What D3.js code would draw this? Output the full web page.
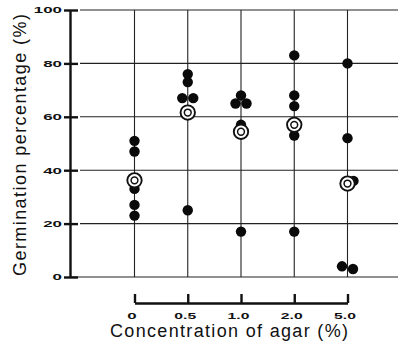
<!DOCTYPE html>
<html>
<head>
<meta charset="utf-8">
<script src="https://cdn.jsdelivr.net/npm/d3@7"></script>
<style>
  body { margin: 0; background: #fff; }
  svg { display: block; font-family: "Liberation Sans", Arial, sans-serif; }
  .grid line { stroke: #222; stroke-width: 1.1; }
  .axis text { font-weight: bold; font-size: 9px; fill: #111; }
  .axis path, .axis line { stroke: #111; stroke-width: 2.4; }
  .title { font-size: 18px; fill: #111; }
</style>
</head>
<body>
<div id="chart"></div>
<script>
const agar = ["0", "0.5", "1.0", "2.0", "5.0"];
// five replicate germination percentages per agar concentration
const germination = [
  [51, 47, 33, 27, 23],
  [76, 73, 67, 67, 25],
  [68, 65, 65, 57, 17],
  [83, 68, 64, 53, 17],
  [80, 52, 36, 4, 3],
];
const yTicks = [0, 20, 40, 60, 80, 100];

const width = 400;
const height = 353;
const margin = { top: 10, right: 2, bottom: 76, left: 70 };
const dotR = 5.2;

const x = d3.scalePoint().domain(agar).range([134.5, 347.5]);
const y = d3
  .scaleLinear()
  .domain([0, 100])
  .range([height - margin.bottom, margin.top]);

const svg = d3
  .select("#chart")
  .append("svg")
  .attr("width", width)
  .attr("height", height)
  .attr("viewBox", [0, 0, width, height]);

// stretch the blocky tick digits
const stretch = (s) => s.replace(".", "").length * 9.4 + (s.includes(".") ? 3 : 0);

// grid
const grid = svg.append("g").attr("class", "grid");
grid
  .selectAll(".h")
  .data(yTicks)
  .join("line")
  .attr("class", "h")
  .attr("x1", (d) => (d === 0 ? margin.left : margin.left + 10))
  .attr("x2", width - margin.right)
  .attr("y1", (d) => y(d))
  .attr("y2", (d) => y(d));
grid
  .selectAll(".v")
  .data(agar)
  .join("line")
  .attr("class", "v")
  .attr("x1", (d) => x(d))
  .attr("x2", (d) => x(d))
  .attr("y1", y(100))
  .attr("y2", y(0));

// left axis
svg
  .append("g")
  .attr("class", "axis axis--left")
  .attr("transform", `translate(${margin.left},0)`)
  .call(d3.axisLeft(y).tickValues(yTicks).tickSize(6).tickSizeOuter(0).tickPadding(2))
  .call((g) => g.selectAll(".tick line").attr("x1", 8))
  .call((g) =>
    g
      .selectAll(".tick text")
      .attr("textLength", (d) => stretch(String(d)))
      .attr("lengthAdjust", "spacingAndGlyphs")
  );

// bottom bracket axis
svg
  .append("g")
  .attr("class", "axis axis--bottom")
  .attr("transform", `translate(0,303)`)
  .call(d3.axisBottom(x).tickSize(-9).tickSizeOuter(0).tickPadding(10))
  .call((g) =>
    g
      .selectAll(".tick text")
      .attr("dx", -3)
      .attr("textLength", (d) => stretch(d))
      .attr("lengthAdjust", "spacingAndGlyphs")
  );

// points, dodged sideways where they sit on top of each other
const points = [];
const means = [];
germination.forEach((vals, i) => {
  const cat = agar[i];
  const mean = d3.mean(vals);
  means.push({ cat, value: mean });
  const sorted = vals.slice().sort((a, b) => b - a);
  const groups = [];
  sorted.forEach((v) => {
    const last = groups[groups.length - 1];
    if (last && Math.abs(last[last.length - 1] - v) <= 1.5) last.push(v);
    else groups.push([v]);
  });
  groups.forEach((grp) => {
    grp.forEach((v, j) => {
      let dx = (j - (grp.length - 1) / 2) * 11;
      if (grp.length === 1 && Math.abs(v - mean) <= 1.5) dx = 6;
      points.push({ cat, value: v, dx });
    });
  });
});

svg
  .append("g")
  .attr("class", "dots")
  .selectAll("circle")
  .data(points)
  .join("circle")
  .attr("cx", (d) => x(d.cat) + d.dx)
  .attr("cy", (d) => y(d.value))
  .attr("r", dotR)
  .attr("fill", "#0a0a0a");

svg
  .append("g")
  .attr("class", "means")
  .selectAll("g")
  .data(means)
  .join("g")
  .attr("transform", (d) => `translate(${x(d.cat)},${y(d.value)})`)
  .call((g) =>
    g.append("circle").attr("r", 7.2).attr("fill", "#fff").attr("stroke", "#111").attr("stroke-width", 1.9)
  )
  .call((g) =>
    g.append("circle").attr("r", 3.4).attr("fill", "#fff").attr("stroke", "#111").attr("stroke-width", 1.5)
  );

// titles
svg
  .append("text")
  .attr("class", "title")
  .attr("transform", "translate(26,145) rotate(-90)")
  .attr("text-anchor", "middle")
  .attr("textLength", 262)
  .attr("lengthAdjust", "spacing")
  .text("Germination percentage (%)");

svg
  .append("text")
  .attr("class", "title")
  .attr("x", 229)
  .attr("y", 337)
  .attr("text-anchor", "middle")
  .attr("textLength", 238)
  .attr("lengthAdjust", "spacing")
  .text("Concentration of agar (%)");
</script>
</body>
</html>
